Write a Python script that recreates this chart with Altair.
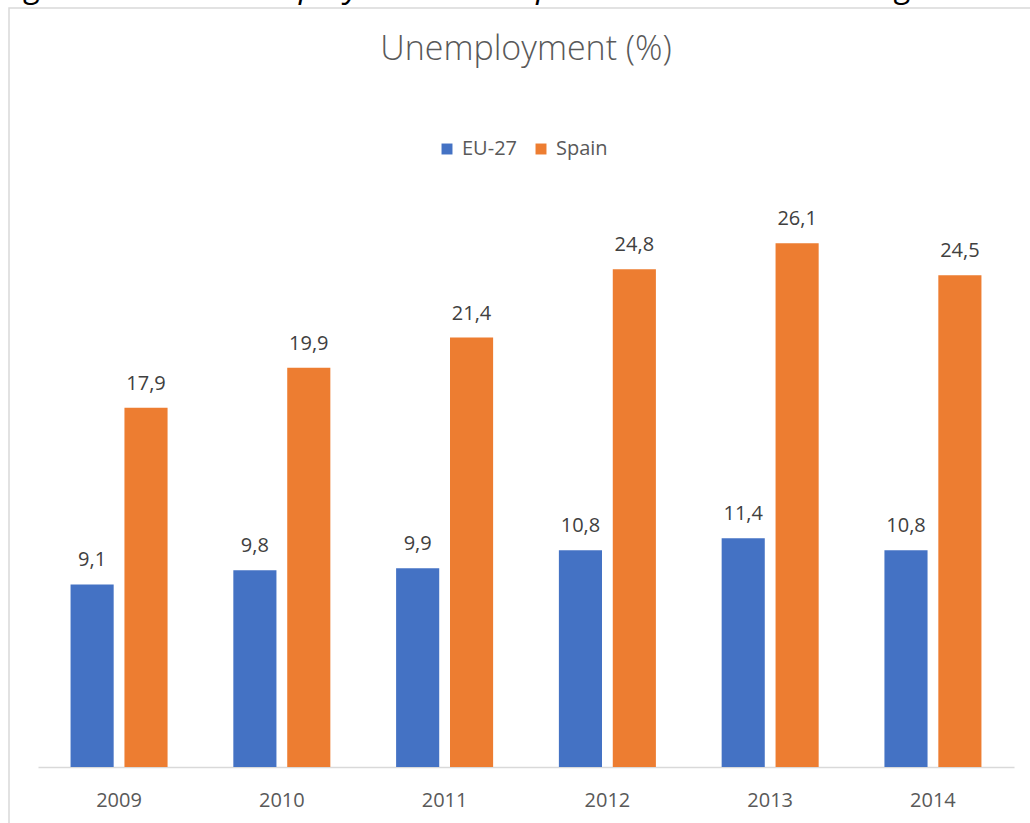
import altair as alt
import pandas as pd

years = ["2009", "2010", "2011", "2012", "2013", "2014"]
eu27 = [9.1, 9.8, 9.9, 10.8, 11.4, 10.8]
spain = [17.9, 19.9, 21.4, 24.8, 26.1, 24.5]
series = ["EU-27", "Spain"]
colors = ["#4472C4", "#ED7D31"]
title_text = "Unemployment (%)"
caption_text = "Figure 3: Total unemployment rate: Spain versus the EU average"

rows = []
for i, y in enumerate(years):
    rows.append({"year": y, "series": "EU-27", "value": eu27[i], "label": f"{eu27[i]:.1f}".replace(".", ",")})
    rows.append({"year": y, "series": "Spain", "value": spain[i], "label": f"{spain[i]:.1f}".replace(".", ",")})
df = pd.DataFrame(rows)

W, H = 976, 602
FONT = "Open Sans"

x_enc = alt.X("year:N", sort=years, title=None,
              scale=alt.Scale(paddingInner=0.404),
              axis=alt.Axis(labelAngle=0, labelFontSize=20, labelColor="#595959",
                            labelFont=FONT, labelPadding=39, labelBaseline="alphabetic",
                            ticks=False, domainColor="#d9d9d9", domainWidth=1.5, grid=False))
y_enc = alt.Y("value:Q", scale=alt.Scale(domain=[0, 30], nice=False), axis=None)
xo = alt.XOffset("series:N", sort=series, scale=alt.Scale(paddingInner=0.2))

base = alt.Chart(df)
bars = base.mark_bar().encode(
    x=x_enc, y=y_enc, xOffset=xo,
    color=alt.Color("series:N", sort=series,
                    scale=alt.Scale(domain=series, range=colors),
                    legend=alt.Legend(title=None, orient="none", legendX=399, legendY=-26,
                                      direction="horizontal", symbolType="square",
                                      symbolSize=120, symbolStrokeWidth=0,
                                      labelFontSize=20, labelColor="#595959", labelFont=FONT,
                                      columnPadding=14, labelOffset=5)),
)
labels = base.mark_text(baseline="alphabetic", dy=-18, fontSize=20, color="#404040", font=FONT).encode(
    x=alt.X("year:N", sort=years), y="value:Q", xOffset=xo, text="label:N")

title = alt.Chart(pd.DataFrame({"t": [title_text]})).mark_text(
    fontSize=34, color="#595959", font=FONT, fontWeight=300, baseline="alphabetic", align="center"
).encode(x=alt.value(488), y=alt.value(-105), text="t:N")

caption = alt.Chart(pd.DataFrame({"t": [caption_text]})).mark_text(
    fontSize=33, color="#000000", font=FONT, fontStyle="italic", baseline="alphabetic", align="left"
).encode(x=alt.value(-37), y=alt.value(-168), text="t:N")

frame = alt.Chart(pd.DataFrame({"a": [0]})).mark_rect(
    fill=None, stroke="#d9d9d9", strokeWidth=1.5
).encode(x=alt.value(-29), x2=alt.value(1200), y=alt.value(-157), y2=alt.value(900))

chart = alt.layer(frame, caption, title, bars, labels).properties(
    width=W, height=H,
    background="white",
    autosize=alt.AutoSizeParams(type="none"),
    padding={"left": 38, "top": 165, "right": 16, "bottom": 56},
).configure_view(strokeWidth=0, stroke="transparent")

chart.save("out.html", embed_options={"renderer": "svg", "actions": False})
